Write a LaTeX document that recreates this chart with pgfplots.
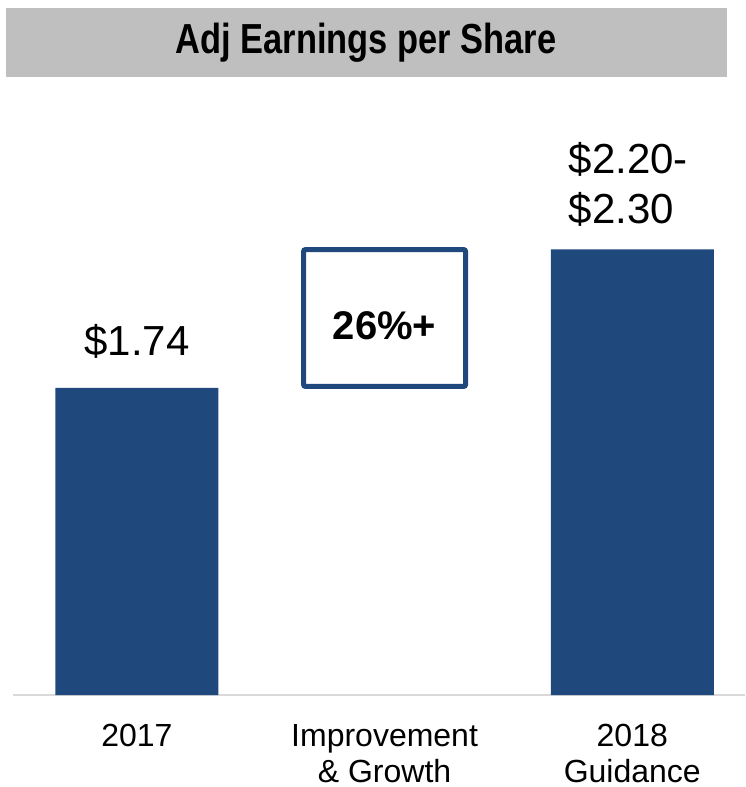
\documentclass[border=0pt]{standalone}
\usepackage{pgfplots}
\pgfplotsset{compat=1.18}
\usepackage{fontspec}
\setmainfont{Liberation Sans}
\usepackage{graphicx}
\definecolor{barblue}{HTML}{1F497D}
\definecolor{bandgray}{HTML}{BFBFBF}
\definecolor{linegray}{HTML}{D9D9D9}
\begin{document}
\begin{tikzpicture}
\useasboundingbox (-13pt,-92pt) rectangle (732pt,695pt);
\begin{axis}[
  at={(0pt,0pt)}, anchor=south west,
  scale only axis, width=732pt, height=569.5pt,
  xmin=-0.5, xmax=2.455, ymin=0.5, ymax=2.8,
  axis x line=bottom, axis y line=none,
  axis line style={-, draw=linegray, line width=2pt},
  xtick={0,1,2},
  xticklabels={2017, Improvement\\\& Growth, 2018\\Guidance},
  xticklabel style={align=center, anchor=north, inner sep=0pt, yshift=-29pt,
    font=\fontsize{32}{36}\selectfont},
  major tick length=0pt, ytick=\empty,
  ybar, bar width=0.658, bar shift=0pt,
]
\addplot[fill=barblue, draw=none] coordinates {(0,1.74) (2,2.30)};
\draw[barblue, line width=5pt, fill=white, rounded corners=2pt]
  (axis cs:0.673,1.746) rectangle (axis cs:1.327,2.299);
\node[font=\bfseries\fontsize{40}{40}\selectfont, anchor=center] at (axis cs:1,1.99) {26\%+};
\node[font=\fontsize{42}{42}\selectfont, anchor=base] at (axis cs:0,1.873) {\$1.74};
\node[font=\fontsize{42}{50}\selectfont, anchor=base west, inner sep=0pt, align=left] at (axis cs:1.7425,2.406) {\$2.20-\\\$2.30};
\end{axis}
\fill[bandgray] (-7pt,618pt) rectangle (714pt,687pt);
\node[font=\bfseries\fontsize{42}{42}\selectfont] at (353pt,652pt) {\scalebox{0.82}[1]{Adj Earnings per Share}};
\end{tikzpicture}
\end{document}
